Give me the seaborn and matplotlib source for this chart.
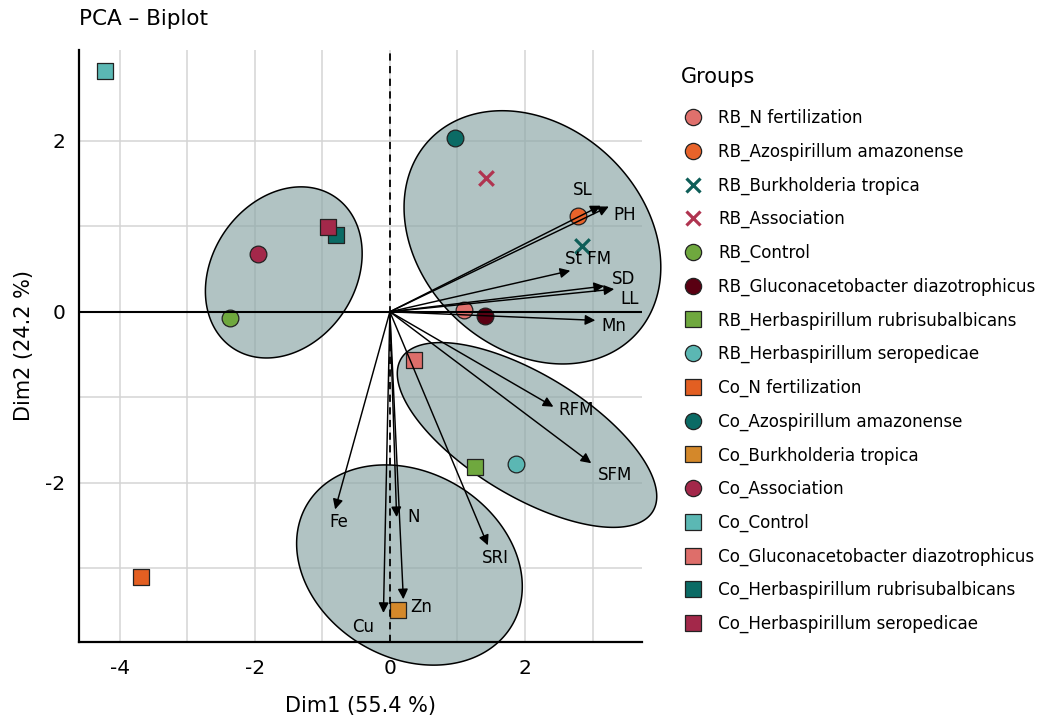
import numpy as np
import matplotlib
matplotlib.use("Agg")
import matplotlib.pyplot as plt
import seaborn as sns
from matplotlib.lines import Line2D
from matplotlib.patches import Polygon
from matplotlib.colors import to_rgba

# ---------------- data ----------------
groups = [
    "RB_N fertilization", "RB_Azospirillum amazonense", "RB_Burkholderia tropica",
    "RB_Association", "RB_Control", "RB_Gluconacetobacter diazotrophicus",
    "RB_Herbaspirillum rubrisubalbicans", "RB_Herbaspirillum seropedicae",
    "Co_N fertilization", "Co_Azospirillum amazonense", "Co_Burkholderia tropica",
    "Co_Association", "Co_Control", "Co_Gluconacetobacter diazotrophicus",
    "Co_Herbaspirillum rubrisubalbicans", "Co_Herbaspirillum seropedicae",
]
dim1 = [1.10, 2.79, 2.84, 1.42, -2.37, 1.41, 1.26, 1.87,
        -3.68, 0.96, 0.12, -1.95, -4.22, 0.36, -0.80, -0.91]
dim2 = [0.02, 1.12, 0.77, 1.56, -0.07, -0.05, -1.81, -1.78,
        -3.10, 2.03, -3.49, 0.68, 2.81, -0.56, 0.90, 0.99]
group_colors = ["#E0706C", "#E8632A", "#0E5E58", "#B03450", "#6FA83E", "#5A0012",
                "#6FA83E", "#5BB7B3", "#E35F22", "#0B6B65", "#D4882A", "#A3284A",
                "#5BB8B4", "#DE6E6A", "#0B6B65", "#A3284A"]
group_markers = ["o", "o", "x", "x", "o", "o", "s", "o",
                 "s", "o", "s", "o", "s", "s", "s", "s"]

var_names = ["SL", "PH", "St FM", "SD", "LL", "Mn", "RFM", "SFM", "SRI",
             "Fe", "N", "Zn", "Cu"]
var_dim1 = [3.12, 3.24, 2.67, 3.17, 3.32, 3.04, 2.42, 2.98, 1.45, -0.81, 0.10, 0.20, -0.095]
var_dim2 = [1.24, 1.23, 0.48, 0.30, 0.265, -0.10, -1.11, -1.77, -2.73, -2.31, -2.40, -3.36, -3.52]

# ellipses: centre, half bounding-box widths, and tilt (cosine of phase)
ell_cx = [-1.57, 2.11, 2.03, 0.29]
ell_cy = [0.46, 0.87, -1.44, -2.96]
ell_hx = [1.16, 1.90, 1.92, 1.67]
ell_hy = [1.00, 1.48, 1.08, 1.17]
ell_tilt = [0.22, -0.236, -0.665, -0.214]

# label offsets (pixels, screen direction) for variable names
label_dx = [-18, 16, 18, 20, 15, 19, 23, 24, 8, 4, 17, 18, -20]
label_dy = [-16, 8, -12, -7, 10, 6, 3, 12, 13, 13, 0, 8, 14]

# ---------------- style ----------------
sns.set_style("white")
plt.rcParams["font.family"] = ["DejaVu Sans"]
plt.rcParams["text.color"] = "black"
plt.rcParams["axes.labelcolor"] = "black"
plt.rcParams["xtick.color"] = "black"
plt.rcParams["ytick.color"] = "black"

fig = plt.figure(figsize=(10.54, 7.2), dpi=100)
ax = fig.add_axes([0.075, 0.1083, 0.534, 0.8223])

ax.set_xlim(-4.60, 3.73)
ax.set_ylim(-3.86, 3.06)
ax.set_xticks([-4, -2, 0, 2])
ax.set_xticks([-3, -1, 1, 3], minor=True)
ax.set_yticks([-2, 0, 2])
ax.set_yticks([-3, -1, 1], minor=True)
ax.set_xticklabels(["-4", "-2", "0", "2"])
ax.set_yticklabels(["-2", "0", "2"])
ax.grid(which="both", color="#D4D4D4", lw=1.1)
ax.set_axisbelow(True)
ax.tick_params(which="minor", length=0)
ax.tick_params(which="major", length=5, width=1.4, color="black",
               labelsize=14.5, labelcolor="black", direction="out")
ax.tick_params(axis="x", which="major", pad=7)
ax.tick_params(axis="y", which="major", pad=5)
for side in ["top", "right"]:
    ax.spines[side].set_visible(False)
for side in ["left", "bottom"]:
    ax.spines[side].set_color("black")
    ax.spines[side].set_linewidth(1.6)

# ellipses
t = np.linspace(0, 2 * np.pi, 300)
for cx, cy, hx, hy, c in zip(ell_cx, ell_cy, ell_hx, ell_hy, ell_tilt):
    phi = np.arccos(c)
    ex = cx + hx * np.cos(t)
    ey = cy + hy * np.cos(t - phi)
    poly = Polygon(np.column_stack([ex, ey]), closed=True,
                   facecolor=to_rgba("#8CA7A7", 0.68), edgecolor="black",
                   lw=1.1, clip_on=False, zorder=1)
    ax.add_patch(poly)

# points
for g, x, y, col, m in zip(groups, dim1, dim2, group_colors, group_markers):
    if m == "x":
        sns.scatterplot(x=[x], y=[y], marker="x", color=col, s=110,
                        linewidth=2.3, ax=ax, legend=False, zorder=3)
    else:
        sns.scatterplot(x=[x], y=[y], marker=m, color=col, s=145,
                        edgecolor="#222222", linewidth=0.9, ax=ax,
                        legend=False, zorder=3)

# reference lines
ax.axhline(0, color="black", lw=1.5, zorder=3.5)
ax.axvline(0, color="black", lw=1.3, ls=(0, (4, 3)), zorder=3.5)

# arrows + labels
for name, vx, vy, dx, dy in zip(var_names, var_dim1, var_dim2, label_dx, label_dy):
    ax.annotate("", xy=(vx, vy), xytext=(0, 0),
                arrowprops=dict(arrowstyle="-|>", color="black", lw=1.05,
                                mutation_scale=15, shrinkA=0, shrinkB=0),
                zorder=4)
    ax.annotate(name, xy=(vx, vy), xytext=(dx * 0.72, -dy * 0.72),
                textcoords="offset points", ha="center", va="center",
                fontsize=12, color="black", zorder=5)

ax.set_xlabel("Dim1 (55.4 %)", fontsize=15, labelpad=13)
ax.set_ylabel("Dim2 (24.2 %)", fontsize=15, labelpad=8)
ax.set_title("PCA – Biplot", loc="left", fontsize=15.5, pad=18)

# legend
handles = []
for col, m in zip(group_colors, group_markers):
    if m == "x":
        handles.append(Line2D([], [], linestyle="None", marker="x", markersize=10,
                              markeredgecolor=col, markeredgewidth=2.3))
    else:
        handles.append(Line2D([], [], linestyle="None", marker=m, markersize=11.7,
                              markerfacecolor=col, markeredgecolor="#222222",
                              markeredgewidth=0.9))
fig.text(681 / 1054, 1 - 77 / 720, "Groups", fontsize=15, ha="left", va="center")
leg = fig.legend(handles, groups, loc="upper left",
                 bbox_to_anchor=(676 / 1054, 1 - 109 / 720),
                 frameon=False, fontsize=12.1,
                 labelspacing=0.92, handletextpad=0.5, handlelength=2.0,
                 borderpad=0, borderaxespad=0)

fig.savefig("out.png", dpi=100)
